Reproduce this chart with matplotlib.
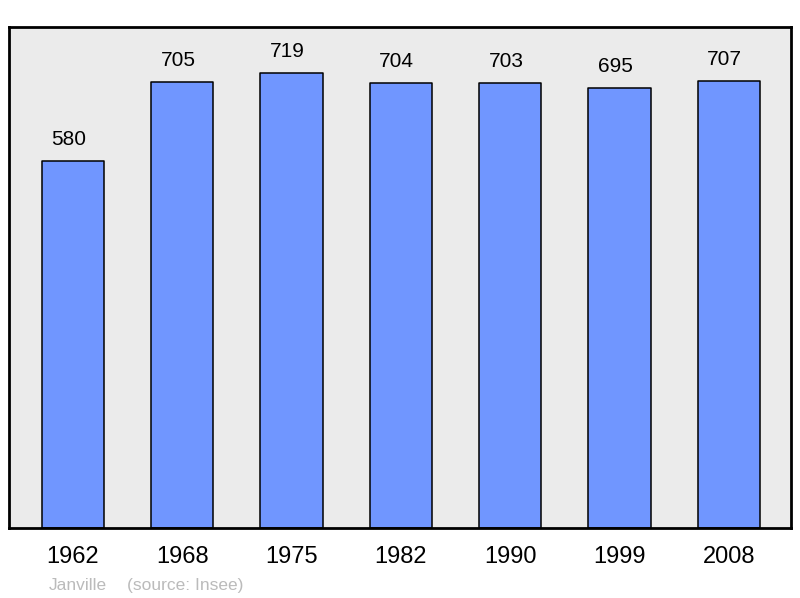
import matplotlib.pyplot as plt

plt.rcParams['font.family'] = ['Liberation Sans', 'DejaVu Sans']

years = ['1962', '1968', '1975', '1982', '1990', '1999', '2008']
population = [580, 705, 719, 704, 703, 695, 707]

fig = plt.figure(figsize=(8, 5.98), dpi=100)
ax = fig.add_axes([9 / 800, 70 / 598, 782 / 800, 501 / 598])
ax.set_facecolor('#ebebeb')

x = range(len(years))
bars = ax.bar(x, population, width=0.57, color='#7096ff', edgecolor='black',
              linewidth=1.1, zorder=2)
for b in bars:
    b.set_joinstyle('round')

for xi, v in zip(x, population):
    ax.annotate(str(v), (xi, v), xytext=(-3, 15.5), textcoords='offset points',
                ha='center', va='center', fontsize=15)

ax.set_xlim(-0.585, 6.57)
ax.set_ylim(0, 792)
ax.set_yticks([])
ax.set_xticks(list(x))
ax.set_xticklabels(years, fontsize=17)
ax.tick_params(axis='x', length=0, pad=13)
for s in ax.spines.values():
    s.set_linewidth(2)
    s.set_joinstyle('round')

fig.text(49 / 800, 1 - 590 / 598, 'Janville', color='#bbbbbb', fontsize=12.5, va='baseline')
fig.text(127 / 800, 1 - 590 / 598, '(source: Insee)', color='#bbbbbb', fontsize=12.5, va='baseline')

fig.savefig('out.png', dpi=100)
